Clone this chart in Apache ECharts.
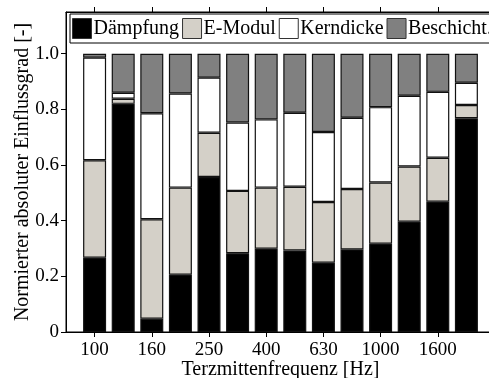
<!DOCTYPE html>
<html>
<head>
<meta charset="utf-8">
<script src="https://cdn.jsdelivr.net/npm/echarts@6/dist/echarts.min.js"></script>
<style>
  html, body { margin: 0; padding: 0; background: #fff; }
  #chart { width: 489px; height: 378px; }
</style>
</head>
<body>
<div id="chart"></div>
<script>
// Terzmittenfrequenzen [Hz]
const categories = ['100', '125', '160', '200', '250', '315', '400', '500', '630', '800', '1000', '1250', '1600', '2000'];
// normierte Anteile je Parameter
const daempfung   = [0.267, 0.820, 0.048, 0.206, 0.557, 0.283, 0.299, 0.293, 0.249, 0.297, 0.317, 0.396, 0.468, 0.768];
const eModul      = [0.350, 0.018, 0.357, 0.313, 0.159, 0.224, 0.220, 0.229, 0.218, 0.217, 0.220, 0.199, 0.158, 0.048];
const kerndicke   = [0.369, 0.022, 0.381, 0.338, 0.198, 0.246, 0.245, 0.266, 0.252, 0.256, 0.271, 0.254, 0.237, 0.080];
const beschicht   = [0.014, 0.140, 0.214, 0.143, 0.086, 0.247, 0.236, 0.212, 0.281, 0.230, 0.192, 0.151, 0.137, 0.104];
const yTicks = [0, 0.2, 0.4, 0.6, 0.8, 1.0];

const font = 'Liberation Serif';
const myChart = echarts.init(document.getElementById('chart'));

// leere Randkategorien links und rechts (Achse reicht von 0 bis 15)
const xCats = [''].concat(categories, ['']);
function pad(arr){ return [null].concat(arr, [null]); }
function showIdx(i){ return i % 2 === 1 && i < xCats.length - 1; }

function bar(name, data, color){
    return {
        name: name,
        type: 'bar',
        stack: 'all',
        barWidth: 23,
        data: pad(data),
        itemStyle: { color: color, borderColor: '#111', borderWidth: 1.2 },
        emphasis: { disabled: true }
    };
}

const option = {
    animation: false,
    backgroundColor: '#fff',
    textStyle: { fontFamily: font, color: '#000' },
    grid: {
        left: 66, right: -6, top: 12, bottom: 46,
        outerBoundsMode: 'none', containLabel: false,
        show: true, borderColor: '#000', borderWidth: 1, backgroundColor: 'transparent'
    },
    legend: {
        left: 70, top: 14, width: 460,
        padding: [4, 2, 4, 2],
        itemGap: 3,
        itemWidth: 19, itemHeight: 20,
        icon: 'rect',
        backgroundColor: '#fff',
        borderColor: '#000', borderWidth: 1,
        itemStyle: { borderColor: '#333', borderWidth: 1 },
        textStyle: { fontFamily: font, fontSize: 20, color: '#000', padding: [0, 0, 0, -3] },
        data: ['Dämpfung', 'E-Modul', 'Kerndicke', 'Beschicht.']
    },
    xAxis: [{
        type: 'category', data: xCats, boundaryGap: false,
        name: 'Terzmittenfrequenz [Hz]', nameLocation: 'middle', nameGap: 28, nameMoveOverlap: false,
        nameTextStyle: { fontFamily: font, fontSize: 20, color: '#000' },
        axisLine: { lineStyle: { color: '#000' } },
        axisTick: { show: true, length: 5, interval: showIdx, lineStyle: { color: '#000' } },
        axisLabel: { interval: showIdx, margin: 9, fontFamily: font, fontSize: 19, color: '#000' },
        splitLine: { show: false }
    }, {
        type: 'category', data: xCats, boundaryGap: false, position: 'top',
        axisLine: { show: true, lineStyle: { color: '#000' } },
        axisTick: { show: true, length: 5, interval: showIdx, lineStyle: { color: '#000' } },
        axisLabel: { show: false },
        splitLine: { show: false }
    }],
    yAxis: {
        type: 'value', min: 0, max: 1.15,
        name: 'Normierter absoluter Einflussgrad [-]', nameLocation: 'middle', nameGap: 33, nameMoveOverlap: false,
        nameTextStyle: { fontFamily: font, fontSize: 20, color: '#000' },
        axisLine: { show: true, lineStyle: { color: '#000' } },
        axisTick: { show: true, length: 5, customValues: yTicks, lineStyle: { color: '#000' } },
        axisLabel: {
            customValues: yTicks, margin: 7, fontFamily: font, fontSize: 19, color: '#000',
            formatter: function(v){ return v === 0 ? '0' : v.toFixed(1); }
        },
        splitLine: { show: false }
    },
    series: [
        bar('Dämpfung', daempfung, '#000000'),
        bar('E-Modul', eModul, '#d4d0c8'),
        bar('Kerndicke', kerndicke, '#ffffff'),
        bar('Beschicht.', beschicht, '#808080')
    ]
};

myChart.setOption(option);
</script>
</body>
</html>
